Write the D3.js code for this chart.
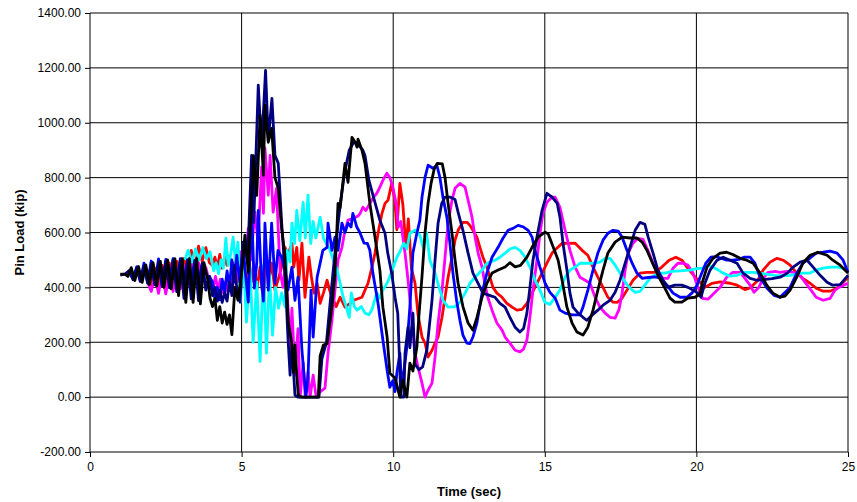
<!DOCTYPE html>
<html>
<head>
<meta charset="utf-8">
<script src="https://cdn.jsdelivr.net/npm/d3@7"></script>
<style>
  body { margin: 0; background: #fff; }
  svg { font-family: "Liberation Sans", Arial, sans-serif; }
  .axis text { font-size: 12px; fill: #000; }
  .axis path, .axis line { stroke: #000; }
  .grid line { stroke: #000; stroke-width: 1; }
  .title { font-size: 13px; font-weight: bold; fill: #000; }
  .series { fill: none; stroke-width: 2.8; stroke-linejoin: round; }
</style>
</head>
<body>
<svg id="chart" width="857" height="502"></svg>
<script>
// axis ticks
var xTicks = [0, 5, 10, 15, 20, 25];
var yTicks = [-200, 0, 200, 400, 600, 800, 1000, 1200, 1400];

// pin load (kip) against time (sec)
var redLoad = [[1.90,430],[2.02,410],[2.14,470],[2.26,406],[2.38,480],[2.50,410],[2.62,488],[2.74,425],[2.86,495],[2.98,440],[3.10,505],[3.22,455],[3.34,535],[3.46,470],[3.58,550],[3.70,495],[3.82,545],[3.94,490],[4.04,480],[4.12,510],[4.20,470],[4.28,520],[4.36,470],[4.44,510],[4.52,480],[4.60,515],[4.68,470],[4.76,490],[4.84,430],[4.92,480],[5.00,400],[5.08,470],[5.16,380],[5.24,490],[5.32,420],[5.40,488],[5.50,390],[5.61,474],[5.72,342],[5.82,510],[5.92,440],[5.99,488],[6.10,390],[6.21,430],[6.32,474],[6.43,546],[6.53,520],[6.66,561],[6.72,474],[6.82,546],[6.89,426],[6.99,561],[7.09,364],[7.22,510],[7.30,440],[7.39,379],[7.49,415],[7.59,342],[7.70,380],[7.82,426],[7.90,390],[8.00,360],[8.12,330],[8.25,364],[8.41,328],[8.58,342],[8.74,355],[8.97,364],[9.07,390],[9.17,415],[9.30,474],[9.40,525],[9.50,597],[9.63,670],[9.73,706],[9.83,718],[9.95,779],[10.05,720],[10.12,610],[10.22,779],[10.32,700],[10.42,540],[10.50,650],[10.60,470],[10.72,415],[10.82,300],[10.95,219],[11.05,197],[11.15,146],[11.28,171],[11.38,197],[11.48,219],[11.61,291],[11.71,364],[11.81,437],[11.94,510],[12.04,572],[12.14,608],[12.30,637],[12.44,637],[12.53,626],[12.63,608],[12.76,583],[12.86,546],[12.96,510],[13.09,474],[13.19,437],[13.29,400],[13.42,379],[13.59,364],[13.75,342],[13.92,328],[14.08,317],[14.25,320],[14.41,342],[14.58,379],[14.74,415],[14.91,452],[15.07,488],[15.24,525],[15.40,543],[15.57,561],[15.80,560],[16.00,561],[16.23,535],[16.42,517],[16.59,474],[16.75,437],[16.92,400],[17.08,364],[17.25,346],[17.38,345],[17.55,361],[17.71,390],[17.91,426],[18.14,452],[18.37,455],[18.63,455],[18.86,474],[19.10,499],[19.32,510],[19.52,499],[19.69,474],[19.85,452],[20.05,426],[20.28,400],[20.52,415],[20.78,420],[21.11,415],[21.34,408],[21.60,392],[21.77,398],[22.03,426],[22.20,463],[22.43,492],[22.66,506],[22.86,499],[23.09,481],[23.31,452],[23.51,433],[23.75,415],[23.95,397],[24.18,386],[24.41,386],[24.64,397],[24.84,419],[25.00,437]];

var magentaLoad = [[1.90,420],[2.02,385],[2.14,440],[2.26,378],[2.38,452],[2.50,376],[2.62,458],[2.74,385],[2.86,470],[2.98,395],[3.10,478],[3.22,408],[3.34,488],[3.46,418],[3.58,490],[3.70,425],[3.82,472],[3.94,420],[4.06,400],[4.14,440],[4.22,390],[4.30,430],[4.38,380],[4.46,420],[4.54,385],[4.62,440],[4.70,400],[4.78,480],[4.86,420],[4.94,530],[5.00,500],[5.08,565],[5.16,540],[5.22,615],[5.30,500],[5.44,674],[5.54,565],[5.66,838],[5.72,670],[5.77,907],[5.88,736],[5.94,881],[6.04,674],[6.15,761],[6.27,455],[6.37,400],[6.45,500],[6.60,179],[6.66,324],[6.76,80],[6.86,250],[6.93,0],[7.03,127],[7.10,0],[7.19,91],[7.26,0],[7.36,80],[7.46,0],[7.60,20],[7.75,33],[7.85,160],[7.98,280],[8.18,499],[8.31,546],[8.41,608],[8.51,645],[8.65,650],[8.84,660],[8.91,670],[9.00,692],[9.10,680],[9.23,706],[9.36,730],[9.46,743],[9.56,765],[9.66,790],[9.79,816],[9.89,800],[9.99,765],[10.12,692],[10.16,619],[10.25,640],[10.39,525],[10.49,426],[10.62,280],[10.72,160],[10.82,109],[10.95,51],[11.05,0],[11.15,25],[11.28,51],[11.38,146],[11.48,270],[11.61,390],[11.71,510],[11.81,634],[11.94,718],[12.04,761],[12.20,779],[12.37,765],[12.47,718],[12.60,656],[12.70,583],[12.80,525],[12.93,474],[13.02,415],[13.12,364],[13.26,317],[13.42,270],[13.59,244],[13.69,219],[13.85,197],[14.02,171],[14.18,165],[14.30,175],[14.41,208],[14.51,291],[14.61,390],[14.74,499],[14.84,597],[14.94,670],[15.07,710],[15.24,729],[15.34,729],[15.50,692],[15.67,608],[15.83,535],[16.00,474],[16.16,437],[16.33,426],[16.49,415],[16.66,364],[16.82,328],[16.99,306],[17.15,291],[17.32,288],[17.45,320],[17.55,379],[17.65,463],[17.75,525],[17.91,561],[18.07,579],[18.24,575],[18.40,535],[18.57,488],[18.73,452],[18.90,433],[19.06,433],[19.23,470],[19.39,488],[19.56,488],[19.72,481],[19.89,452],[20.05,400],[20.20,360],[20.38,357],[20.55,375],[20.78,400],[21.00,437],[21.20,455],[21.44,455],[21.60,433],[21.77,408],[21.90,382],[22.06,400],[22.20,433],[22.37,455],[22.60,458],[22.76,455],[22.99,458],[23.19,455],[23.42,444],[23.58,419],[23.78,390],[23.95,364],[24.18,353],[24.41,360],[24.57,390],[24.70,400],[25.00,415]];

var cyanLoad = [[3.13,500],[3.24,535],[3.36,492],[3.48,540],[3.60,500],[3.72,545],[3.84,505],[3.96,530],[4.08,460],[4.16,490],[4.24,450],[4.32,500],[4.40,470],[4.48,579],[4.56,480],[4.64,520],[4.72,583],[4.80,490],[4.88,565],[4.96,346],[5.05,530],[5.16,273],[5.28,470],[5.38,200],[5.50,420],[5.61,130],[5.72,480],[5.82,160],[5.92,450],[6.02,226],[6.12,400],[6.22,324],[6.32,380],[6.43,330],[6.50,535],[6.60,492],[6.66,634],[6.75,560],[6.82,681],[6.92,570],[7.03,710],[7.10,580],[7.19,736],[7.28,560],[7.36,640],[7.45,580],[7.59,656],[7.70,580],[7.92,535],[8.02,500],[8.15,463],[8.25,415],[8.35,364],[8.45,330],[8.55,291],[8.62,380],[8.72,330],[8.81,317],[8.95,330],[9.07,306],[9.20,300],[9.30,320],[9.46,380],[9.56,360],[9.66,390],[9.82,420],[9.99,470],[10.12,510],[10.20,525],[10.35,561],[10.45,540],[10.55,597],[10.72,608],[10.88,590],[11.00,540],[11.10,600],[11.21,499],[11.38,452],[11.54,390],[11.64,353],[11.81,328],[12.04,330],[12.20,346],[12.37,379],[12.53,415],[12.70,437],[12.93,463],[13.09,488],[13.36,499],[13.52,510],[13.69,525],[13.85,540],[14.02,546],[14.18,535],[14.35,510],[14.51,474],[14.68,426],[14.84,390],[15.00,346],[15.17,338],[15.34,364],[15.50,390],[15.67,437],[15.83,463],[16.00,474],[16.16,488],[16.40,488],[16.66,488],[16.82,492],[16.99,506],[17.15,506],[17.32,481],[17.48,452],[17.65,419],[17.81,397],[17.98,382],[18.14,385],[18.30,408],[18.47,433],[18.63,444],[18.80,452],[18.96,452],[19.20,458],[19.46,460],[19.79,463],[20.00,468],[20.20,470],[20.35,481],[20.52,475],[20.72,463],[20.88,452],[21.11,441],[21.34,444],[21.60,455],[21.85,455],[22.10,452],[22.30,448],[22.59,444],[22.85,442],[23.09,444],[23.31,448],[23.50,452],[23.75,452],[23.95,463],[24.18,470],[24.41,474],[24.64,474],[24.90,468],[25.00,463]];

var blueLoad = [[1.30,455],[1.42,430],[1.54,475],[1.66,422],[1.78,488],[1.90,418],[2.02,496],[2.14,412],[2.26,504],[2.38,408],[2.50,502],[2.62,410],[2.74,505],[2.86,410],[2.98,505],[3.10,420],[3.22,500],[3.34,428],[3.46,498],[3.58,420],[3.70,485],[3.82,400],[3.94,440],[4.04,420],[4.12,360],[4.20,400],[4.28,355],[4.36,430],[4.44,380],[4.52,460],[4.60,400],[4.68,500],[4.76,420],[4.84,517],[4.94,419],[5.05,560],[5.11,470],[5.22,346],[5.33,688],[5.42,397],[5.50,488],[5.55,681],[5.66,415],[5.72,350],[5.77,634],[5.88,390],[5.99,634],[6.10,415],[6.20,535],[6.32,510],[6.43,463],[6.53,390],[6.66,474],[6.76,353],[6.86,437],[6.99,171],[7.12,0],[7.19,73],[7.29,390],[7.36,219],[7.49,437],[7.59,488],[7.68,535],[7.82,546],[7.85,634],[7.98,535],[8.08,583],[8.18,535],[8.31,634],[8.41,600],[8.51,634],[8.61,620],[8.67,670],[8.80,620],[8.90,600],[9.04,561],[9.15,560],[9.23,535],[9.33,452],[9.50,342],[9.66,208],[9.80,98],[9.89,36],[9.99,60],[10.06,20],[10.12,87],[10.22,160],[10.28,40],[10.36,100],[10.45,182],[10.55,328],[10.65,525],[10.78,597],[10.88,645],[10.95,729],[11.05,801],[11.15,845],[11.31,834],[11.44,845],[11.54,801],[11.64,729],[11.77,656],[11.87,561],[11.97,452],[12.09,353],[12.20,280],[12.30,226],[12.43,197],[12.53,195],[12.63,219],[12.76,270],[12.93,379],[13.09,452],[13.26,510],[13.46,546],[13.62,579],[13.79,608],[13.95,615],[14.12,626],[14.30,620],[14.45,608],[14.58,583],[14.68,535],[14.84,474],[15.01,415],[15.17,382],[15.34,361],[15.50,317],[15.67,306],[15.90,300],[16.16,300],[16.26,328],[16.42,390],[16.59,463],[16.75,525],[16.92,572],[17.08,597],[17.25,608],[17.42,605],[17.55,583],[17.71,535],[17.88,488],[18.04,452],[18.21,433],[18.40,436],[18.63,438],[18.80,435],[19.03,408],[19.23,379],[19.46,364],[19.69,364],[19.85,379],[20.02,408],[20.12,437],[20.31,488],[20.48,510],[20.65,512],[20.81,506],[21.00,499],[21.20,499],[21.40,502],[21.57,510],[21.77,510],[21.93,488],[22.10,437],[22.33,397],[22.56,371],[22.76,364],[23.09,400],[23.31,452],[23.51,488],[23.74,506],[23.95,525],[24.18,528],[24.41,532],[24.64,525],[24.84,499],[25.00,455]];

var navyLoad = [[1.00,445],[1.15,448],[1.30,462],[1.42,428],[1.54,470],[1.66,422],[1.78,478],[1.90,415],[2.02,486],[2.14,410],[2.26,490],[2.38,405],[2.50,494],[2.62,398],[2.74,500],[2.86,385],[2.98,500],[3.10,360],[3.22,500],[3.34,358],[3.46,498],[3.58,352],[3.70,488],[3.82,390],[3.94,440],[4.04,370],[4.12,400],[4.20,350],[4.28,390],[4.36,345],[4.44,380],[4.52,350],[4.60,420],[4.68,370],[4.76,480],[4.84,400],[4.95,346],[5.05,565],[5.20,500],[5.33,881],[5.40,637],[5.55,1137],[5.66,911],[5.79,1191],[5.88,936],[6.00,1089],[6.10,881],[6.21,852],[6.32,637],[6.43,455],[6.53,215],[6.60,80],[6.66,190],[6.76,7],[6.85,0],[7.55,0],[7.65,140],[7.80,200],[7.95,380],[8.10,550],[8.25,700],[8.40,820],[8.55,900],[8.70,930],[8.85,920],[9.00,900],[9.07,880],[9.20,790],[9.35,729],[9.56,645],[9.73,597],[9.82,525],[9.95,452],[10.06,364],[10.15,306],[10.20,160],[10.25,0],[10.35,0],[10.39,160],[10.49,255],[10.55,180],[10.65,306],[10.72,120],[10.85,100],[10.97,110],[11.11,171],[11.28,353],[11.38,499],[11.48,634],[11.60,706],[11.71,729],[11.87,729],[12.04,720],[12.14,674],[12.30,608],[12.47,525],[12.63,452],[12.80,415],[12.96,379],[13.20,370],[13.36,364],[13.52,342],[13.69,328],[13.85,291],[14.02,255],[14.18,237],[14.30,250],[14.41,306],[14.51,400],[14.61,499],[14.74,583],[14.91,681],[15.07,743],[15.24,729],[15.41,706],[15.50,656],[15.60,561],[15.73,463],[15.83,379],[15.93,328],[16.10,306],[16.26,291],[16.39,280],[16.56,299],[16.75,317],[16.92,335],[17.15,353],[17.32,382],[17.48,426],[17.65,488],[17.81,546],[17.98,608],[18.14,637],[18.30,630],[18.41,583],[18.57,525],[18.73,463],[18.90,426],[19.06,400],[19.29,408],[19.52,408],[19.72,400],[19.89,390],[20.05,379],[20.15,364],[20.28,415],[20.45,463],[20.68,499],[20.88,510],[21.11,499],[21.34,488],[21.54,452],[21.77,433],[22.00,426],[22.20,428],[22.50,432],[22.76,437],[23.00,452],[23.19,474],[23.42,492],[23.65,499],[23.85,474],[24.08,444],[24.31,419],[24.50,408],[24.74,410],[25.00,444]];

var blackLoad = [[1.00,448],[1.15,448],[1.25,440],[1.36,472],[1.48,425],[1.60,476],[1.72,418],[1.84,482],[1.96,410],[2.08,490],[2.20,405],[2.32,495],[2.44,400],[2.56,500],[2.68,395],[2.80,505],[2.92,370],[3.04,505],[3.16,345],[3.28,505],[3.40,345],[3.52,505],[3.64,340],[3.76,490],[3.88,430],[3.96,360],[4.04,330],[4.12,360],[4.20,280],[4.28,330],[4.36,270],[4.44,310],[4.52,265],[4.60,300],[4.68,228],[4.78,400],[4.88,353],[5.00,452],[5.11,590],[5.22,455],[5.39,880],[5.50,735],[5.61,1027],[5.72,808],[5.77,1063],[5.88,929],[5.99,980],[6.10,800],[6.21,761],[6.32,615],[6.43,517],[6.54,273],[6.65,200],[6.71,90],[6.76,190],[6.82,80],[6.87,7],[6.98,0],[7.53,0],[7.59,150],[7.70,190],[7.82,195],[7.98,330],[8.08,450],[8.18,706],[8.25,690],[8.41,852],[8.51,783],[8.64,947],[8.74,930],[8.81,911],[8.84,940],[8.97,900],[9.07,852],[9.23,706],[9.40,583],[9.56,463],[9.66,328],[9.80,219],[9.89,87],[10.06,70],[10.22,0],[10.32,62],[10.45,0],[10.55,124],[10.65,95],[10.78,182],[10.85,300],[10.95,440],[11.05,600],[11.15,706],[11.25,780],[11.35,830],[11.45,852],[11.62,850],[11.71,800],[11.81,706],[11.94,597],[12.04,500],[12.14,415],[12.30,330],[12.47,270],[12.63,244],[12.76,290],[12.93,364],[13.09,415],[13.26,452],[13.46,463],[13.69,474],[13.85,490],[14.02,475],[14.20,480],[14.41,510],[14.58,546],[14.78,583],[15.01,601],[15.11,595],[15.28,546],[15.44,499],[15.57,426],[15.73,328],[15.90,270],[16.06,237],[16.26,226],[16.42,255],[16.59,317],[16.75,390],[16.92,463],[17.08,525],[17.32,565],[17.55,583],[17.81,580],[18.04,580],[18.21,565],[18.37,535],[18.54,492],[18.73,444],[18.96,397],[19.13,361],[19.29,346],[19.52,346],[19.72,361],[19.95,364],[20.12,375],[20.20,420],[20.35,474],[20.55,506],[20.78,525],[21.00,528],[21.20,520],[21.44,506],[21.66,499],[21.87,488],[22.10,452],[22.32,408],[22.52,379],[22.76,364],[22.92,368],[23.09,390],[23.31,437],[23.51,488],[23.75,517],[24.01,528],[24.31,517],[24.50,499],[24.74,481],[25.00,452]];

var series = [
    { name: "red", color: "#ff0000", values: redLoad },
    { name: "magenta", color: "#ff00ff", values: magentaLoad },
    { name: "cyan", color: "#00ffff", values: cyanLoad },
    { name: "blue", color: "#0000ff", values: blueLoad },
    { name: "navy", color: "#000080", values: navyLoad },
    { name: "black", color: "#000000", values: blackLoad }
];

var margin = { top: 13, right: 9, bottom: 50, left: 90 };
var width = 857 - margin.left - margin.right;
var height = 502 - margin.top - margin.bottom;

// plain hyphen for negative tick labels, as in the original
var locale = d3.formatLocale({ decimal: ".", thousands: ",", grouping: [3], currency: ["$", ""], minus: "-" });

var svg = d3.select("#chart");
var grp = svg.append("g")
    .attr("transform", "translate(" + margin.left + "," + margin.top + ")");

var x = d3.scaleLinear().domain([0, 25]).range([0, width]);
var y = d3.scaleLinear().domain([-200, 1400]).range([height, 0]);

// gridlines
grp.append("g")
    .attr("class", "grid")
  .selectAll("line.h")
    .data(yTicks.filter(function(d) { return d > -200; }))
  .enter().append("line")
    .attr("x1", 0).attr("x2", width)
    .attr("y1", function(d) { return y(d); })
    .attr("y2", function(d) { return y(d); });

grp.append("g")
    .attr("class", "grid")
  .selectAll("line.v")
    .data(xTicks.filter(function(d) { return d > 0; }))
  .enter().append("line")
    .attr("y1", 0).attr("y2", height)
    .attr("x1", function(d) { return x(d); })
    .attr("x2", function(d) { return x(d); });

// the load lines
var line = d3.line()
    .x(function(d) { return x(d[0]); })
    .y(function(d) { return y(d[1]); });

grp.append("g")
  .selectAll("path")
    .data(series)
  .enter().append("path")
    .attr("class", "series")
    .attr("stroke", function(d) { return d.color; })
    .attr("d", function(d) { return line(d.values); });

// axes
grp.append("g")
    .attr("class", "axis")
    .call(d3.axisLeft(y).tickValues(yTicks).tickSize(5).tickPadding(4).tickFormat(locale.format(".2f")));

grp.append("g")
    .attr("class", "axis")
    .attr("transform", "translate(0," + height + ")")
    .call(d3.axisBottom(x).tickValues(xTicks).tickSize(5).tickPadding(5).tickFormat(locale.format("d")));

grp.selectAll(".axis .domain")
    .attr("d", function() {
        return d3.select(this.parentNode).attr("transform") ? "M0,0H" + width : "M0,0V" + height;
    });

// titles
svg.append("text")
    .attr("class", "title")
    .attr("text-anchor", "middle")
    .attr("x", margin.left + width / 2)
    .attr("y", 496)
    .text("Time (sec)");

svg.append("text")
    .attr("class", "title")
    .attr("text-anchor", "middle")
    .attr("transform", "translate(24," + (margin.top + height / 2) + ") rotate(-90)")
    .text("Pin Load (kip)");
</script>
</body>
</html>
